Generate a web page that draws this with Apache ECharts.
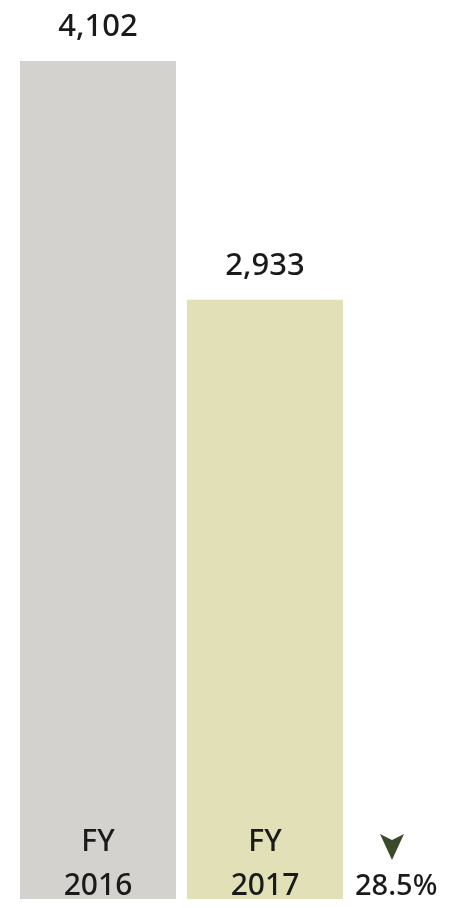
<!DOCTYPE html>
<html>
<head>
<meta charset="utf-8">
<script src="https://cdn.jsdelivr.net/npm/echarts@6/dist/echarts.min.js"></script>
<style>
  html, body { margin: 0; padding: 0; background: #fff; }
  #main { width: 462px; height: 908px; }
</style>
</head>
<body>
<div id="main"></div>
<script>
// data
var categories = ['FY\n2016', 'FY\n2017'];
var values = [4102, 2933];
var barColors = ['#d3d2ce', '#e2e0b6'];
var changeText = '28.5%';

var dom = document.getElementById('main');
var myChart = echarts.init(dom, null, { renderer: 'canvas' });

var font = '"Noto Sans", Lato, sans-serif';

var option = {
    animation: false,
    grid: { left: 14.5, width: 334, top: 61, bottom: 7 },
    xAxis: {
        type: 'category',
        data: categories,
        axisLine: { show: false },
        axisTick: { show: false },
        axisLabel: {
            inside: true,
            margin: -9,
            color: '#1a1a1a',
            fontFamily: font,
            fontWeight: 500,
            fontSize: 30,
            lineHeight: 44,
            verticalAlign: 'bottom'
        },
        z: 5
    },
    yAxis: {
        type: 'value',
        min: 0,
        max: values[0],
        show: false
    },
    series: [{
        type: 'bar',
        barWidth: 156,
        data: values.map(function (v, i) {
            return { value: v, itemStyle: { color: barColors[i] } };
        }),
        label: {
            show: true,
            position: 'top',
            distance: 18,
            color: '#1a1a1a',
            fontFamily: font,
            fontWeight: 500,
            fontSize: 31,
            formatter: function (p) { return p.value.toLocaleString('en-US'); }
        }
    }],
    graphic: [
        {
            // down arrow
            type: 'polygon',
            shape: { points: [[380, 834], [392, 840], [404, 834], [392, 860]] },
            style: { fill: '#3b4a2a' }
        },
        {
            type: 'text',
            left: 355,
            top: 872,
            style: {
                text: changeText,
                fill: '#1a1a1a',
                font: '500 29px ' + font
            }
        }
    ]
};

myChart.setOption(option);
window.addEventListener('resize', myChart.resize);
</script>
</body>
</html>
